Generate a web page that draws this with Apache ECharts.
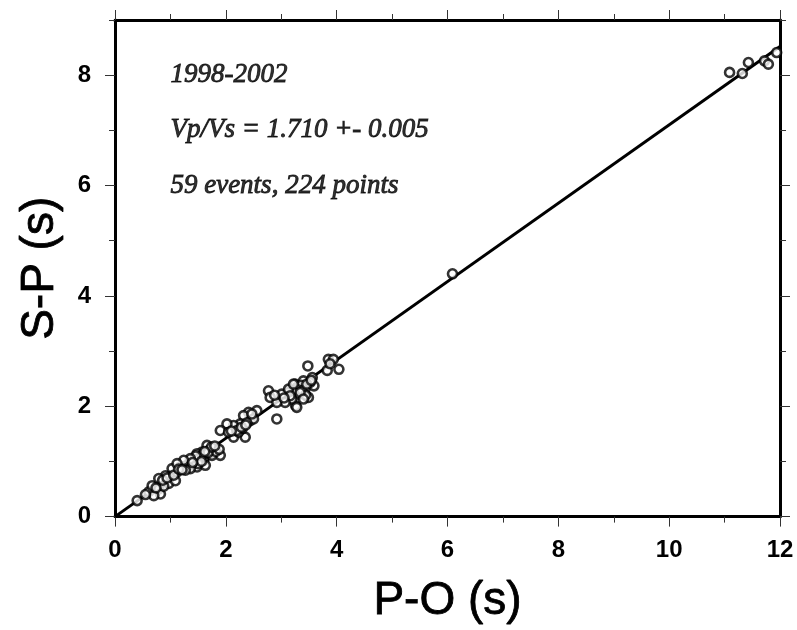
<!DOCTYPE html>
<html>
<head>
<meta charset="utf-8">
<script src="https://cdn.jsdelivr.net/npm/echarts@6/dist/echarts.min.js"></script>
<style>
  html, body { margin: 0; padding: 0; background: #fff; }
  #chart { width: 797px; height: 630px; }
</style>
</head>
<body>
<div id="chart"></div>
<script>
// P-O travel time (s) for each observation
const poTimes = [
  11.09, 11.32, 11.43, 11.72, 11.79, 11.94,
  6.09,
  3.48, 3.85, 3.94, 3.83, 4.04, 3.88,
  3.25, 3.40, 3.56, 3.43, 3.59, 3.31, 3.49, 3.26, 3.19, 3.28, 3.52, 3.36,
  3.30, 3.38, 3.46, 3.54, 3.20, 3.12, 3.44,
  2.77, 2.80, 2.92, 3.01, 3.13, 3.22, 3.16, 3.07, 3.28, 3.34, 3.40, 2.92, 3.05, 2.88,
  2.56, 2.41, 2.44, 2.32, 2.26, 2.14, 2.02, 1.90, 2.14, 2.35, 2.23, 2.50, 2.05, 2.30, 2.38, 2.47,
  2.20, 2.28, 2.36, 2.10,
  1.66, 1.90, 1.72, 1.60, 1.78, 1.57, 1.48, 1.45, 1.60, 1.48, 1.75, 1.63, 1.70, 1.55, 1.82,
  1.42, 1.52, 1.58, 1.68, 1.74, 1.50, 1.62, 1.38, 1.46, 1.56, 1.88, 1.80,
  0.40, 0.61, 0.67, 0.79, 0.82, 0.70, 0.85, 0.97, 1.00, 1.09, 1.12, 1.18, 1.30, 1.36,
  1.03, 0.91, 0.79, 1.24, 1.12, 1.36, 1.27, 0.88, 1.40,
  0.74, 0.86, 0.94, 1.06, 1.15, 1.21, 0.55
];
// S-P time (s) for the same observations
const spTimes = [
  8.05, 8.03, 8.23, 8.26, 8.20, 8.41,
  4.40,
  2.73, 2.85, 2.85, 2.65, 2.67, 2.77,
  2.40, 2.46, 2.52, 2.31, 2.37, 2.22, 2.16, 2.01, 2.13, 2.34, 2.43, 2.38,
  2.30, 2.28, 2.40, 2.47, 2.28, 2.25, 2.20,
  2.28, 2.16, 1.77, 2.22, 2.31, 2.40, 2.19, 2.07, 1.98, 2.25, 2.13, 2.07, 2.15, 2.20,
  1.92, 1.89, 1.74, 1.83, 1.68, 1.65, 1.68, 1.56, 1.44, 1.44, 1.53, 1.77, 1.53, 1.60, 1.70, 1.86,
  1.56, 1.62, 1.66, 1.55,
  1.29, 1.11, 1.14, 1.02, 1.23, 1.17, 1.14, 1.02, 1.05, 0.90, 1.11, 0.93, 1.20, 1.08, 1.18,
  1.00, 1.06, 1.12, 1.16, 1.26, 0.96, 1.18, 0.95, 1.10, 1.00, 1.22, 1.28,
  0.29, 0.45, 0.56, 0.50, 0.41, 0.38, 0.63, 0.60, 0.74, 0.65, 0.81, 0.90, 0.93, 1.05,
  0.87, 0.74, 0.69, 1.02, 0.96, 0.87, 0.84, 0.55, 0.98,
  0.52, 0.66, 0.70, 0.75, 0.86, 0.85, 0.40
];

// Wadati fit: S-P = (Vp/Vs - 1) * (P-O)
const vpvs = 1.710;
const fitRange = [0, 12];

const xMajorTicks = [0, 2, 4, 6, 8, 10, 12];
const xMinorTicks = [1, 3, 5, 7, 9, 11];
const yMajorTicks = [0, 2, 4, 6, 8];
const yMinorTicks = [1, 3, 5, 7, 9];

const noteLines = ['1998-2002', 'Vp/Vs = 1.710 +- 0.005', '59 events, 224 points'];
const noteRows = [8, 7, 6];
const noteCol = 1;

const SANS = 'Liberation Sans, Arial, Helvetica, sans-serif';
const SERIF = 'Liberation Serif, Times New Roman, serif';
const FRAME = { show: true, onZero: false, lineStyle: { color: '#000', width: 3 } };
const NO_LINE = { show: false, onZero: false };

function axis(kind, position, ticks, tickLen, extra) {
  const isX = kind === 'x';
  return Object.assign({
    type: 'value',
    position: position,
    min: 0,
    max: isX ? 12 : 9,
    interval: 1,
    splitLine: { show: false },
    axisLine: NO_LINE,
    axisTick: {
      show: true,
      inside: false,
      length: tickLen,
      customValues: ticks,
      lineStyle: { color: '#333', width: 1 }
    },
    axisLabel: { show: false }
  }, extra || {});
}

const tickLabelStyle = { color: '#000', fontFamily: SANS, fontSize: 24, fontWeight: 'bold' };
const titleStyle = { color: '#000', fontFamily: SANS, fontSize: 46, textBorderColor: '#000', textBorderWidth: 0.8 };

const chart = echarts.init(document.getElementById('chart'), null, { renderer: 'canvas' });

chart.setOption({
  animation: false,
  backgroundColor: '#fff',
  grid: { left: 115, right: 17, top: 20, bottom: 112, containLabel: false },
  xAxis: [
    axis('x', 'bottom', xMajorTicks, 10, {
      axisLine: FRAME,
      axisLabel: Object.assign({ show: true, margin: 22, customValues: xMajorTicks }, tickLabelStyle),
      name: 'P-O (s)',
      nameLocation: 'middle',
      nameGap: 62,
      nameTextStyle: titleStyle
    }),
    axis('x', 'bottom', xMinorTicks, 6),
    axis('x', 'top', xMajorTicks, 10, { axisLine: FRAME }),
    axis('x', 'top', xMinorTicks, 6)
  ],
  yAxis: [
    axis('y', 'left', yMajorTicks, 10, {
      axisLine: FRAME,
      axisLabel: Object.assign({ show: true, margin: 24, customValues: yMajorTicks }, tickLabelStyle),
      name: 'S-P (s)',
      nameLocation: 'middle',
      nameGap: 52,
      nameTextStyle: titleStyle
    }),
    axis('y', 'left', yMinorTicks, 6),
    axis('y', 'right', yMajorTicks, 10, { axisLine: FRAME }),
    axis('y', 'right', yMinorTicks, 6)
  ],
  series: [
    {
      type: 'line',
      xAxisIndex: 0,
      yAxisIndex: 0,
      data: fitRange.map(function (x) { return [x, (vpvs - 1) * x]; }),
      symbol: 'none',
      silent: true,
      lineStyle: { color: '#000', width: 3 },
      z: 2
    },
    {
      type: 'scatter',
      xAxisIndex: 0,
      yAxisIndex: 0,
      data: poTimes.map(function (x, i) { return [x, spTimes[i]]; }),
      symbol: 'circle',
      symbolSize: 9,
      itemStyle: { color: '#fff', borderColor: '#000', borderWidth: 2.6 },
      silent: true,
      z: 3
    },
    {
      type: 'scatter',
      xAxisIndex: 0,
      yAxisIndex: 0,
      data: noteLines.map(function (t, i) { return [noteCol, noteRows[i], t]; }),
      symbolSize: 0,
      silent: true,
      label: {
        show: true,
        position: 'right',
        distance: 0,
        formatter: function (p) { return p.data[2]; },
        color: '#000',
        fontFamily: SERIF,
        fontStyle: 'italic',
        fontSize: 27,
        textBorderColor: '#000',
        textBorderWidth: 0.9
      },
      z: 4
    }
  ]
});
</script>
</body>
</html>
